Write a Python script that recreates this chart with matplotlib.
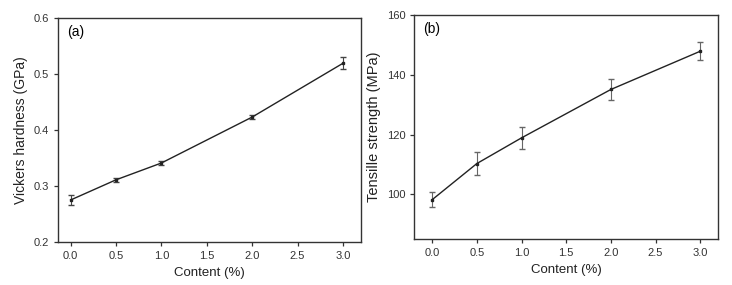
import matplotlib
matplotlib.use("Agg")
import matplotlib.pyplot as plt

# Data
content = [0.0, 0.5, 1.0, 2.0, 3.0]
hardness = [0.275, 0.311, 0.341, 0.423, 0.519]
hardness_err = [0.009, 0.004, 0.003, 0.003, 0.011]
tensile = [98.2, 110.3, 118.9, 135.1, 147.9]
tensile_err = [2.5, 3.8, 3.7, 3.5, 3.0]
x_ticks = [0.0, 0.5, 1.0, 1.5, 2.0, 2.5, 3.0]

plt.rcParams['font.family'] = ['Liberation Sans', 'DejaVu Sans']

fig = plt.figure(figsize=(7.32, 2.85), dpi=100)
ax1 = fig.add_axes([0.0792, 0.151, 0.414, 0.786])
ax2 = fig.add_axes([0.566, 0.161, 0.415, 0.786])


def style_axis(ax):
    for sp in ax.spines.values():
        sp.set_linewidth(1.0)
        sp.set_color('#333333')
    ax.tick_params(direction='out', length=3, width=0.9, labelsize=8, colors='#333333')
    ax.set_xticks(x_ticks)
    ax.set_xticklabels([f'{v:.1f}' for v in x_ticks])
    ax.set_xlabel('Content (%)', fontsize=9.5, color='#222222')


# (a) Vickers hardness
ax1.errorbar(content, hardness, yerr=hardness_err, color='#222222', marker='s',
             markersize=2, linewidth=1.0, elinewidth=0.8, capsize=2.5, ecolor='#444444')
ax1.set_xlim(-0.14, 3.2)
ax1.set_ylim(0.2, 0.6)
ax1.set_yticks([0.2, 0.3, 0.4, 0.5, 0.6])
ax1.set_ylabel('Vickers hardness (GPa)', fontsize=10, color='#222222')
ax1.text(0.03, 0.97, '(a)', transform=ax1.transAxes, ha='left', va='top', fontsize=10)
style_axis(ax1)

# (b) Tensile strength
ax2.errorbar(content, tensile, yerr=tensile_err, color='#222222', marker='s',
             markersize=2, linewidth=1.0, elinewidth=0.8, capsize=2.5, ecolor='#666666')
ax2.set_xlim(-0.2, 3.2)
ax2.set_ylim(85, 160)
ax2.set_yticks([100, 120, 140, 160])
ax2.set_ylabel('Tensille strength (MPa)', fontsize=10.5, color='#222222')
ax2.text(0.03, 0.97, '(b)', transform=ax2.transAxes, ha='left', va='top', fontsize=10)
style_axis(ax2)

fig.savefig('out.png', dpi=100)
